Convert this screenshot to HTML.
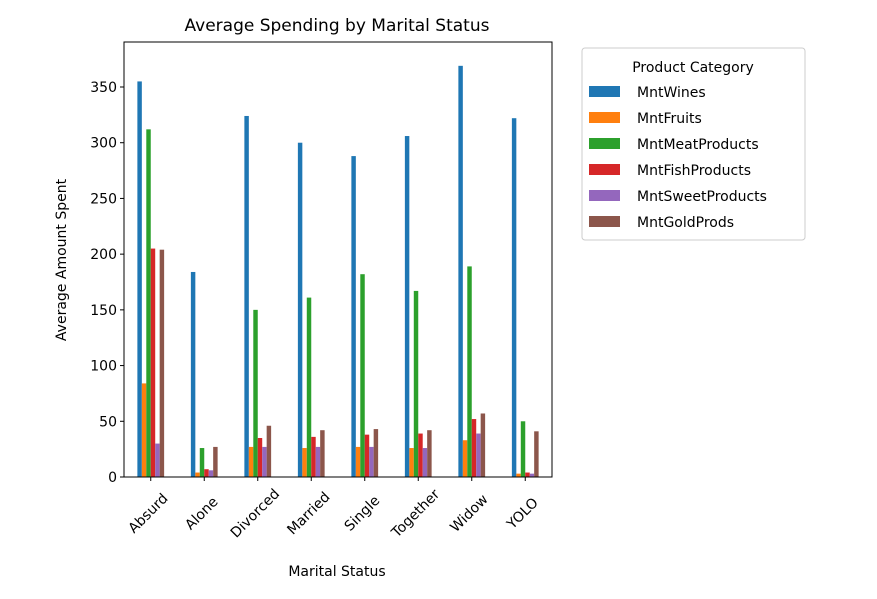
<!DOCTYPE html>
<html><head><meta charset="utf-8"><style>
body{margin:0;background:#fff;font-family:"DejaVu Sans","Liberation Sans",sans-serif;}
text{font-family:"DejaVu Sans","Liberation Sans",sans-serif;fill:#000;}
</style></head><body>
<svg id="chart" width="877" height="595" xmlns="http://www.w3.org/2000/svg">
<text x="337" y="31" font-size="17" text-anchor="middle">Average Spending by Marital Status</text>
<g id="bars"></g>
<g id="axes"></g>
<text x="337" y="576" font-size="14" text-anchor="middle">Marital Status</text>
<text transform="translate(66,260) rotate(-90)" font-size="14" text-anchor="middle">Average Amount Spent</text>
<g>
<rect x="582" y="48" width="223" height="192" rx="3" fill="#fff" stroke="#ccc"/>
<text x="693" y="72" font-size="14" text-anchor="middle">Product Category</text>
<g id="legend-items"></g>
</g>
</svg>
<script>
const categories=["Absurd","Alone","Divorced","Married","Single","Together","Widow","YOLO"];
const series=["MntWines","MntFruits","MntMeatProducts","MntFishProducts","MntSweetProducts","MntGoldProds"];
const colors=["#1f77b4","#ff7f0e","#2ca02c","#d62728","#9467bd","#8c564b"];
const wines=[355,184,324,300,288,306,369,322];
const fruits=[84,4,27,26,27,26,33,3];
const meat=[312,26,150,161,182,167,189,50];
const fish=[205,7,35,36,38,39,52,4];
const sweet=[30,6,27,27,27,26,39,3];
const gold=[204,27,46,42,43,42,57,41];
const yTicks=[0,50,100,150,200,250,300,350];
const values=[wines,fruits,meat,fish,sweet,gold];
const NS="http://www.w3.org/2000/svg";
const L=124,R=552,T=42,B=477;
const y=v=>B-v*(B-87)/350;
const step=(R-L)/categories.length;
const x=i=>L+step*(i+0.5);
const bw=step*0.5/series.length;
const bars=document.getElementById('bars');
function mk(tag,attrs,parent){const e=document.createElementNS(NS,tag);for(const k in attrs)e.setAttribute(k,attrs[k]);parent.appendChild(e);return e;}
values.forEach((arr,s)=>{arr.forEach((v,i)=>{
 const r=mk('rect',{x:x(i)-step*0.25+s*bw,y:y(v),width:bw,height:B-y(v),fill:colors[s]},bars);
 
 
});});
const ax=document.getElementById('axes');
mk('rect',{x:L,y:T,width:R-L,height:B-T,fill:'none',stroke:'#000','stroke-width':1},ax);
yTicks.forEach(t=>{
 mk('line',{x1:L-4,x2:L,y1:y(t),y2:y(t),stroke:'#000'},ax);
 const tx=mk('text',{x:L-7,y:y(t)+5,'font-size':14,'text-anchor':'end'},ax);tx.textContent=t;
 
 
});
categories.forEach((c,i)=>{
 mk('line',{x1:x(i),x2:x(i),y1:B,y2:B+4,stroke:'#000'},ax);
 const tx=mk('text',{x:0,y:5,'font-size':14,'text-anchor':'middle',transform:`translate(${x(i)-3},${B+36}) rotate(-45)`},ax);tx.textContent=c;
 
 
});
const lg=document.getElementById('legend-items');
series.forEach((s,k)=>{
 const yy=92+k*26;
 mk('rect',{x:589,y:yy-6,width:31,height:11,fill:colors[k]},lg);
 const tx=mk('text',{x:637,y:yy+5,'font-size':14},lg);tx.textContent=s;
 
 
});
</script>
</body></html>
